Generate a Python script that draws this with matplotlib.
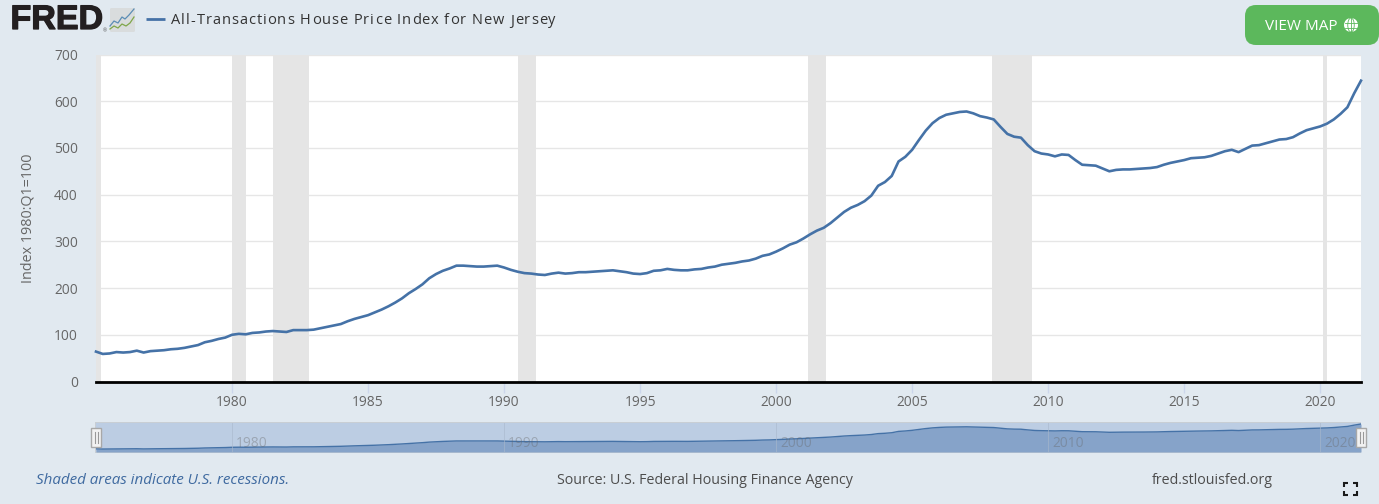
import matplotlib
matplotlib.use('agg')
import matplotlib.pyplot as plt
import matplotlib.patheffects as pe
from matplotlib.patches import FancyBboxPatch, Rectangle, Circle, Ellipse
import numpy as np

plt.rcParams['font.family'] = ['Open Sans', 'DejaVu Sans']

W = 1379
H = 504

# quarterly index, 1975 Q1 to 2021 Q3
start_year = 1975
index_values = [
    64, 59, 60, 63,
    62, 63, 66, 62,
    65, 66, 67, 69,
    70, 72, 75, 78,
    84, 87, 91, 94,
    100, 102, 101, 104,
    105, 107, 108, 107,
    106, 110, 110, 110,
    111, 114, 117, 120,
    123, 129, 134, 138,
    142, 148, 154, 161,
    169, 178, 189, 198,
    208, 221, 230, 237,
    242, 248, 248, 247,
    246, 246, 247, 248,
    244, 239, 235, 232,
    231, 229, 228, 231,
    233, 231, 232, 234,
    234, 235, 236, 237,
    238, 236, 234, 231,
    230, 232, 237, 238,
    241, 239, 238, 238,
    240, 241, 244, 246,
    250, 252, 254, 257,
    259, 263, 269, 272,
    278, 285, 293, 298,
    306, 315, 323, 329,
    339, 351, 363, 372,
    378, 386, 398, 419,
    427, 440, 471, 481,
    496, 517, 537, 553,
    564, 571, 574, 577,
    578, 574, 568, 565,
    561, 545, 530, 524,
    522, 506, 493, 488,
    486, 482, 486, 485,
    474, 464, 463, 462,
    456, 450, 453, 454,
    454, 455, 456, 457,
    459, 464, 468, 471,
    474, 478, 479, 480,
    483, 488, 493, 496,
    491, 498, 505, 506,
    510, 514, 518, 519,
    523, 531, 538, 542,
    546, 552, 561, 573,
    587, 617, 644,
]
dates = [start_year + i / 4 for i in range(len(index_values))]

recession_start = [1975.0, 1980.0, 1981.5, 1990.5, 2001.17, 2007.92, 2020.085]
recession_end = [1975.17, 1980.5, 1982.83, 1991.17, 2001.83, 2009.42, 2020.25]

year_ticks = [1980, 1985, 1990, 1995, 2000, 2005, 2010, 2015, 2020]
nav_ticks = [1980, 1990, 2000, 2010, 2020]
value_ticks = [0, 100, 200, 300, 400, 500, 600, 700]

title = 'All-Transactions House Price Index for New Jersey'
ylabel = 'Index 1980:Q1=100'

BG = '#e1e9f0'
LINE = '#4572a7'
TXT = '#666666'


def px_axes(left, top, right, bottom, **kw):
    return fig.add_axes([left / W, 1 - bottom / H, (right - left) / W, (bottom - top) / H], **kw)


def spaced_text(ax, x, y, s, spacing, **kw):
    # matplotlib has no letter spacing, so place the characters one by one
    r = fig.canvas.get_renderer()
    probe = ax.text(0, 0, '.', **kw)
    dot = probe.get_window_extent(r).width
    for i, ch in enumerate(s):
        probe.set_text(s[:i] + '.')
        off = probe.get_window_extent(r).width - dot if i > 0 else 0
        ax.text(x + off + i * spacing, y, ch, ha='left', va='center', **kw)
    probe.remove()


fig = plt.figure(figsize=(W / 100, H / 100), dpi=100, facecolor=BG)

# page level layer in pixel coordinates
page = fig.add_axes([0, 0, 1, 1], zorder=0)
page.set_xlim(0, W)
page.set_ylim(H, 0)
page.axis('off')

# main chart
ax = px_axes(96, 54.5, 1361, 381.5, zorder=2)
ax.set_xlim(1975, 2021.5)
ax.set_ylim(0, 700)
for a, b in zip(recession_start, recession_end):
    ax.axvspan(a, b, color='#e5e5e5', lw=0, zorder=2)
ax.plot(dates, index_values, color=LINE, lw=1.9, zorder=3, clip_on=False, solid_joinstyle='round')
ax.set_xticks(year_ticks)
ax.set_yticks(value_ticks)
ax.grid(axis='y', color='#e6e6e6', lw=1.0, zorder=1)
ax.set_axisbelow(True)
ax.tick_params(axis='x', length=8, width=1, color='#ccd6eb', labelcolor=TXT, labelsize=9.9, pad=2)
ax.tick_params(axis='y', length=0, labelcolor=TXT, labelsize=9.9, pad=13)
for side in ['top', 'left', 'right']:
    ax.spines[side].set_visible(False)
ax.spines['bottom'].set_color('black')
ax.spines['bottom'].set_linewidth(2.0)
ax.spines['bottom'].set_zorder(5)
page.text(28, 218, ylabel, rotation=90, ha='center', va='center', color=TXT, fontsize=10.4)

# range navigator
page.add_patch(Rectangle((95, 422), 1266, 31, fc='#c8ced4', ec='none'))
nav = px_axes(96, 423, 1361, 452, zorder=2)
nav.set_xlim(1975, 2021.5)
nav.set_ylim(-10, 667)
nav.set_facecolor('#bccde3')
nav.fill_between(dates, index_values, -10, color='#86a3c9', lw=0)
nav.plot(dates, index_values, color=LINE, lw=1.0)
for y in nav_ticks:
    nav.axvline(y, color='#a9b8cc', lw=0.7, alpha=0.6)
    nav.annotate(str(y), (y, 0), xytext=(3, 1), textcoords='offset points', xycoords=('data', 'axes fraction'),
                 color='#666666', alpha=0.38, fontsize=9.9, va='bottom')
nav.set_xticks([])
nav.set_yticks([])
for s in nav.spines.values():
    s.set_visible(False)

# navigator handles sit on top of everything
top = fig.add_axes([0, 0, 1, 1], zorder=5)
top.set_xlim(0, W)
top.set_ylim(H, 0)
top.axis('off')
for hx in [96, 1361]:
    top.add_patch(Rectangle((hx - 5, 428), 10, 19, fc='#f2f2f2', ec='#a8a8a8', lw=1.0))
    top.plot([hx - 1.5, hx - 1.5], [432, 443], color='#999999', lw=0.8)
    top.plot([hx + 1.5, hx + 1.5], [432, 443], color='#999999', lw=0.8)

# FRED logo
page.text(10.5, 20.5, 'FRED', fontsize=24.5, fontweight='bold', color='#231f20', family='Liberation Sans',
          ha='left', va='center', path_effects=[pe.withStroke(linewidth=0.9, foreground='#231f20')])
page.text(105, 31, '®', fontsize=3.5, color='#555555', ha='center', va='center')
page.add_patch(FancyBboxPatch((110, 8), 25, 24, boxstyle='round,pad=0,rounding_size=1.5', fc='#d9dcdd', ec='none'))
page.plot([110, 114, 118, 122, 125, 129, 134], [26, 21, 23, 17, 19, 15, 9], color='#5b8db5', lw=0.9)
page.plot([110, 114, 118, 122, 126, 130, 134], [29, 26, 28, 24, 26, 23, 17], color='#7fa64a', lw=0.9)

# legend entry
page.plot([146, 165], [19, 19], color=LINE, lw=2.0, solid_capstyle='butt')
spaced_text(page, 171, 21, title, 0.98, fontsize=10.5, color='#333333', fontweight='medium')

# button
page.add_patch(FancyBboxPatch((1245, 5), 134, 40, boxstyle='round,pad=0,rounding_size=11', fc='#5cb85c', ec='none',
                              clip_on=False))
page.text(1265, 26.5, 'VIEW MAP', color='white', fontsize=11.0, ha='left', va='center')
page.add_patch(Circle((1351, 25), 7, fc='white', ec='none'))
page.add_patch(Ellipse((1351, 25), 6.5, 14, fc='none', ec='#5cb85c', lw=0.6))
page.plot([1351, 1351], [18, 32], color='#5cb85c', lw=0.6)
page.plot([1344.5, 1357.5], [22.5, 22.5], color='#5cb85c', lw=0.6)
page.plot([1344.5, 1357.5], [27.5, 27.5], color='#5cb85c', lw=0.6)

# footer
page.text(36, 480, 'Shaded areas indicate U.S. recessions.', color='#3f6aa0', fontsize=10.9, style='italic',
          ha='left', va='center')
page.text(557, 480, 'Source: U.S. Federal Housing Finance Agency', color='#4d4d4d', fontsize=10.25, ha='left', va='center')
page.text(1152, 480, 'fred.stlouisfed.org', color='#4d4d4d', fontsize=10.25, ha='left', va='center')

# fullscreen icon
for cx, cy, dx, dy in [(1344, 483, 1, 1), (1357, 483, -1, 1), (1344, 495, 1, -1), (1357, 495, -1, -1)]:
    page.plot([cx + 4 * dx, cx, cx], [cy, cy, cy + 4 * dy], color='#1a1a1a', lw=1.5, solid_joinstyle='miter',
              solid_capstyle='butt')

fig.savefig('out.png', dpi=100, facecolor=BG)
plt.close()
